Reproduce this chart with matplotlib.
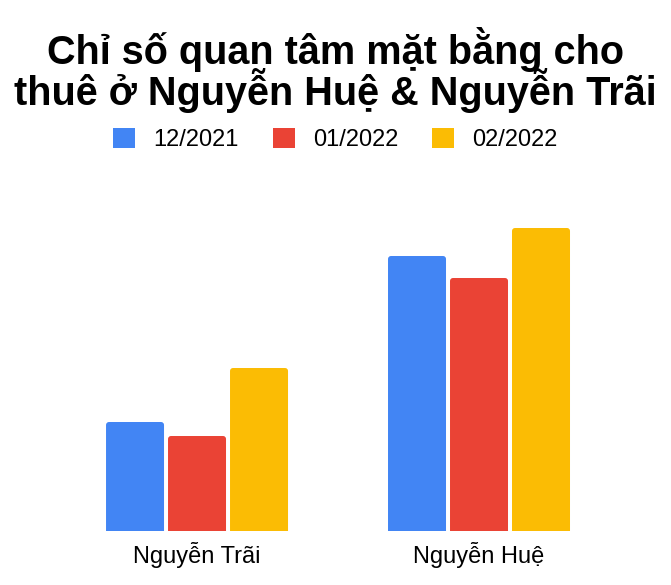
import matplotlib
matplotlib.use("Agg")
import matplotlib.pyplot as plt
from matplotlib.patches import FancyBboxPatch
import numpy as np

plt.rcParams['font.family'] = ['Liberation Sans', 'DejaVu Sans']

categories = ['Nguyễn Trãi', 'Nguyễn Huệ']
series_names = ['12/2021', '01/2022', '02/2022']
dec_2021 = [109, 275]
jan_2022 = [95, 253]
feb_2022 = [163, 303]
colors = ['#4285F4', '#EA4335', '#FBBC04']
title_lines = ['Chỉ số quan tâm mặt bằng cho', 'thuê ở Nguyễn Huệ & Nguyễn Trãi']

fig = plt.figure(figsize=(6.71, 5.85), dpi=100)
ax = fig.add_axes([0.0835, 0.0923, 0.8405, 0.547])
ax.set_xlim(-0.5, 1.5)
ax.set_ylim(0, 320)

x = np.arange(len(categories))
width = 58 / 282
step = 62 / 282
# slightly rounded top corners: swap each bar for a rounded box that
# dips below the baseline, so only the top corners show as round
aspect = (320 / ax.bbox.height) / (2 / ax.bbox.width)
r = 3 * 2 / ax.bbox.width
for i, (vals, name) in enumerate(zip([dec_2021, jan_2022, feb_2022], series_names)):
    bars = ax.bar(x + (i - 1) * step, vals, width, color=colors[i], label=name)
    for b in bars:
        b.set_visible(False)
        bx, by = b.get_x(), b.get_y()
        ax.add_patch(FancyBboxPatch((bx, by - 10), b.get_width(), b.get_height() + 10,
                                    boxstyle=f"round,pad=0,rounding_size={r}",
                                    mutation_aspect=aspect, fc=colors[i], ec='none'))

ax.set_xticks(x)
ax.set_xticklabels(categories, fontsize=17)
ax.tick_params(axis='x', length=0, pad=8)
ax.set_yticks([])
for s in ['top', 'right', 'left', 'bottom']:
    ax.spines[s].set_visible(False)

# title, one line at a time
fig.text(0.5, 0.890, title_lines[0], ha='center', va='baseline',
         fontsize=28.5, fontweight='bold')
fig.text(0.5, 0.8205, title_lines[1], ha='center', va='baseline',
         fontsize=28.5, fontweight='bold')

fig.legend(handles=[plt.Rectangle((0, 0), 1, 1, fc=c) for c in colors],
           labels=series_names, loc='center', bbox_to_anchor=(0.5, 0.762),
           ncol=3, frameon=False, fontsize=17, handlelength=0.93,
           handleheight=0.93, handletextpad=0.76, columnspacing=1.45)

fig.savefig('out.png', dpi=100)
